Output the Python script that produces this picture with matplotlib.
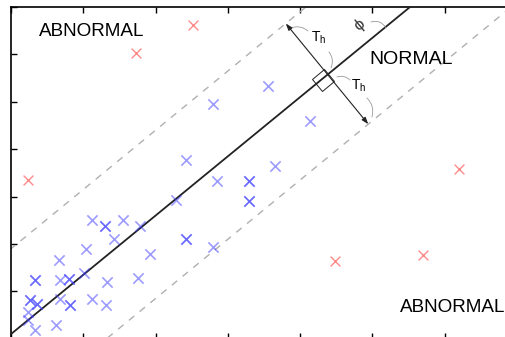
import matplotlib
matplotlib.use("Agg")
import matplotlib.pyplot as plt
from matplotlib.markers import MarkerStyle
from matplotlib.transforms import Affine2D
import numpy as np

plt.rcParams['font.family'] = ['Liberation Sans', 'DejaVu Sans']
plt.rcParams['mathtext.default'] = 'regular'

# ---- data ----
normal_x = [3.56, 2.79, 4.14, 2.42, 3.65, 2.85, 3.29, 3.29, 3.29, 3.29, 2.28,
            1.12, 1.30, 1.30, 1.55, 1.78, 1.43, 2.42, 2.42, 2.79, 1.04, 1.92,
            0.66, 0.33, 0.33, 0.68, 0.80, 0.80, 1.01, 1.33, 1.76, 0.26, 0.26,
            0.36, 0.36, 0.68, 0.82, 0.82, 1.12, 1.31, 0.24, 0.24, 0.33, 0.62]
normal_y = [5.33, 4.95, 4.59, 3.77, 3.65, 3.33, 3.33, 3.33, 2.91, 2.91, 2.93,
            2.51, 2.38, 2.38, 2.51, 2.38, 2.11, 2.11, 2.11, 1.94, 1.90, 1.79,
            1.66, 1.24, 1.24, 1.24, 1.26, 1.26, 1.39, 1.20, 1.28, 0.82, 0.82,
            0.73, 0.73, 0.84, 0.71, 0.71, 0.84, 0.71, 0.57, 0.40, 0.19, 0.29]
abnormal_x = [2.52, 1.73, 0.24, 6.20, 4.48, 5.70]
abnormal_y = [6.62, 6.03, 3.35, 3.58, 1.64, 1.77]

slope = 1.25
intercept = 0.10
upper_int = 1.90
lower_int = -1.65
xlim = (0, 7)
ylim = (0, 7)

W, H = 505, 337
fig = plt.figure(figsize=(W / 100, H / 100), dpi=100)
ax = fig.add_axes([11 / W, -1.8 / H, 506 / W, 331.8 / H])
ax.set_xlim(*xlim)
ax.set_ylim(*ylim)

def px(xp, yp):
    return ((xp - 11) / 72.3, (338.8 - yp) / 47.4)

xs = np.array([-1.0, 8.0])
ax.plot(xs, slope * xs + intercept, color='#222222', lw=1.3, zorder=3)
ax.plot(xs, slope * xs + upper_int, color='#b0b0b0', lw=1.0,
        dashes=(5, 5), zorder=2)
ax.plot(xs, slope * xs + lower_int, color='#b0b0b0', lw=1.0,
        dashes=(5, 5), zorder=2)

ax.scatter(normal_x, normal_y, marker='x', s=55, color='#3b3bff',
           alpha=0.5, linewidths=1.2, zorder=4)
ax.scatter(abnormal_x, abnormal_y, marker='x', s=50, color='#ff5a5a',
           alpha=0.7, linewidths=1.0, zorder=4)

# perpendicular arrow (perpendicular in display space)
sx, sy = 72.3, 47.4
px0 = 4.38
py0 = slope * px0 + intercept
d = np.array([slope * sy / sx, -sx / sy])  # perpendicular direction in data
rate = d[1] - slope * d[0]
t_up = (upper_int - intercept) / rate
t_lo = (lower_int - intercept) / rate
p_up = (px0 + t_up * d[0], py0 + t_up * d[1])
p_lo = (px0 + t_lo * d[0], py0 + t_lo * d[1])
ax.annotate('', xy=p_up, xytext=p_lo,
            arrowprops=dict(arrowstyle='<|-|>,head_length=0.4,head_width=0.14',
                            color='#222222', lw=0.8, shrinkA=0, shrinkB=0),
            zorder=5)

# right angle square
ang = np.degrees(np.arctan2(slope * sy, sx))
sq = MarkerStyle('s', fillstyle='none', transform=Affine2D().rotate_deg(ang))
cx, cy = px(323, 80)
ax.plot([cx], [cy], marker=sq, markersize=11, markeredgecolor='#222222',
        markeredgewidth=0.7, linestyle='none', zorder=5)

# texts
ax.text(*px(92, 31.5), 'ABNORMAL', fontsize=13.6, ha='center', va='center')
ax.text(*px(411, 60), 'NORMAL', fontsize=14, ha='center', va='center')
ax.text(*px(453, 307), 'ABNORMAL', fontsize=13.6, ha='center', va='center')
ax.text(*px(319, 38), r'T$_h$', fontsize=10, ha='center', va='center')
ax.text(*px(359, 86), r'T$_h$', fontsize=10, ha='center', va='center')
ax.text(*px(360, 25), r'$\phi$', fontsize=12, ha='center', va='center',
        rotation=40, color='#333333')

def leader(a, b, rad):
    ax.annotate('', xy=px(*b), xytext=px(*a),
                arrowprops=dict(arrowstyle='-', color='#999999', lw=0.6,
                                shrinkA=0, shrinkB=0,
                                connectionstyle=f'arc3,rad={rad}'))

leader((308, 31), (291, 28), 0.3)
leader((329, 52), (331, 68), -0.3)
leader((350, 80), (337, 77), 0.3)
leader((367, 98), (372, 117), -0.3)
leader((371, 22), (386, 28), -0.4)

ax.set_xticks(range(0, 8))
ax.set_yticks(range(0, 8))
ax.tick_params(direction='in', length=4, width=1, top=True, right=True,
               labelbottom=False, labelleft=False)
for s in ax.spines.values():
    s.set_linewidth(1.2)

fig.savefig('out.png', dpi=100)
